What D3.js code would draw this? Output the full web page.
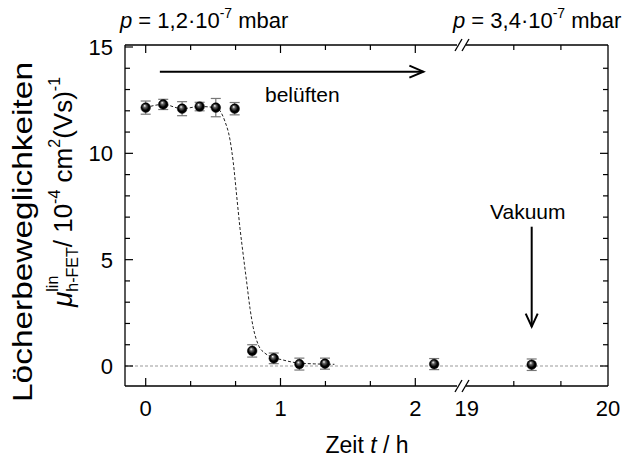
<!DOCTYPE html>
<html><head><meta charset="utf-8">
<script src="https://cdn.jsdelivr.net/npm/d3@7/dist/d3.min.js"></script>
<style>body{margin:0;background:#fff}svg text{font-family:"Liberation Sans",Arial,sans-serif;fill:#000;white-space:pre}</style>
</head><body><svg id="c" width="625" height="459"></svg>
<script>
// ---- data ----
const timeH      = [0, 0.13, 0.27, 0.40, 0.52, 0.66, 0.79, 0.95, 1.14, 1.33, 2.14, 19.46];
const mobility   = [12.15, 12.3, 12.1, 12.2, 12.15, 12.1, 0.71, 0.36, 0.09, 0.11, 0.09, 0.06];
const mobilityErr= [0.31, 0.24, 0.33, 0.2, 0.43, 0.29, 0.29, 0.25, 0.28, 0.26, 0.26, 0.27];
const fitT = [0, 0.13, 0.27, 0.40, 0.52, 0.551, 0.588, 0.625, 0.650, 0.675, 0.700, 0.724, 0.749, 0.774, 0.798, 0.835, 0.885, 0.935, 1.02, 1.12, 1.25, 1.4];
const fitV = [12.15, 12.3, 12.1, 12.2, 12.15, 12.0, 11.5, 10.65, 9.55, 8.0, 6.45, 5.2, 3.95, 2.7, 1.8, 1.0, 0.6, 0.43, 0.28, 0.15, 0.1, 0.08];
const xTicksLeft  = [0, 1, 2];
const xTicksRight = [19, 20];
const yTicks = [0, 5, 10, 15];

// ---- layout ----
const L = 125, R = 608, T = 45, B = 386, BRK = 463;
const svg = d3.select('#c');
const xl = d3.scaleLinear().domain([0, 2]).range([145.7, 415.3]);
const xr = d3.scaleLinear().domain([19, 20]).range([466.7, 608]);
const X = t => t > 10 ? xr(t) : xl(t);
const y = d3.scaleLinear().domain([0, 15]).range([366, 47]);

// zero reference line
svg.append('line').attr('x1', L).attr('x2', R).attr('y1', y(0)).attr('y2', y(0))
  .attr('stroke', '#999').attr('stroke-width', 1).attr('stroke-dasharray', '3,2');

// fit curve
const fitPts = fitT.map((t, i) => [X(t), y(fitV[i])]);
svg.append('path').attr('d', d3.line().curve(d3.curveMonotoneX)(fitPts))
  .attr('fill', 'none').attr('stroke', '#222').attr('stroke-width', 1).attr('stroke-dasharray', '3,2');

// axes frame with break
const ax = svg.append('g').attr('stroke', '#000').attr('stroke-width', 1.3).attr('fill', 'none');
ax.append('line').attr('x1', L).attr('x2', L).attr('y1', T).attr('y2', B);
ax.append('line').attr('x1', R).attr('x2', R).attr('y1', T).attr('y2', B);
[T, B].forEach(yy => {
  ax.append('line').attr('x1', L).attr('x2', BRK - 6).attr('y1', yy).attr('y2', yy);
  ax.append('line').attr('x1', BRK + 3).attr('x2', R).attr('y1', yy).attr('y2', yy);
  [-4, 3].forEach(o => ax.append('line').attr('x1', BRK + o - 4).attr('y1', yy + 6)
      .attr('x2', BRK + o + 3).attr('y2', yy - 6));
});

// ticks (inward, mirrored)
const minorL = d3.range(0, 7).map(i => i / 3);
const minorR = [19 + 1 / 3, 19 + 2 / 3];
const tickG = svg.append('g').attr('stroke', '#000').attr('stroke-width', 1.2);
const drawXT = (px, len) => {
  tickG.append('line').attr('x1', px).attr('x2', px).attr('y1', B).attr('y2', B - len);
  tickG.append('line').attr('x1', px).attr('x2', px).attr('y1', T).attr('y2', T + len);
};
minorL.forEach((v, i) => drawXT(xl(v), i % 3 === 0 ? 8 : 5));
minorR.forEach(v => drawXT(xr(v), 5));
d3.range(0, 16).forEach(v => {
  const len = v % 5 === 0 ? 8 : 5;
  tickG.append('line').attr('x1', L).attr('x2', L + len).attr('y1', y(v)).attr('y2', y(v));
  if (v < 15) tickG.append('line').attr('x1', R).attr('x2', R - len).attr('y1', y(v)).attr('y2', y(v));
});

// tick labels
const fs = 22;
yTicks.forEach(v => svg.append('text').attr('x', 113).attr('y', y(v) + 8).attr('text-anchor', 'end')
  .attr('font-size', fs).text(v));
xTicksLeft.forEach(v => svg.append('text').attr('x', xl(v)).attr('y', 416).attr('text-anchor', 'middle')
  .attr('font-size', fs).text(v));
xTicksRight.forEach(v => svg.append('text').attr('x', xr(v)).attr('y', 416).attr('text-anchor', 'middle')
  .attr('font-size', fs).text(v));

// rich text helper
function rich(parent, x0, y0, runs) {
  let x = x0, lastW = 0;
  runs.forEach(r => {
    const t = parent.append('text').attr('x', x).attr('y', y0 + (r.dy || 0))
      .attr('font-size', r.size || fs).text(r.text);
    if (r.italic) t.attr('font-style', 'italic');
    const w = t.node().getComputedTextLength();
    if (r.stack) { lastW = w; }
    else { x += Math.max(w, r.after ? lastW : 0); lastW = 0; }
  });
  return x - x0;
}

// top labels
[[120, '1,2'], [453, '3,4']].forEach(([px, v]) => {
  rich(svg, px, 28, [
    {text: 'p', italic: true}, {text: ' = ' + v + '·10'}, {text: '-7', size: 14, dy: -10}, {text: ' mbar'}
  ]);
});

// y axis label
const g1 = svg.append('g').attr('transform', 'translate(32,232) rotate(-90)');
g1.append('text').attr('text-anchor', 'middle').attr('font-size', 28)
  .attr('textLength', 340).attr('lengthAdjust', 'spacingAndGlyphs').text('Löcherbeweglichkeiten');
const g2 = svg.append('g').attr('transform', 'translate(72,192) rotate(-90)');
const tmp = g2.append('g');
const w2 = rich(tmp, 0, 0, [
  {text: 'μ', italic: true, size: 28},
  {text: 'lin', size: 16, dy: -14, stack: true},
  {text: 'h-FET', size: 16, dy: 6, after: true},
  {text: '/ 10', size: 26},
  {text: '-4', size: 16, dy: -12},
  {text: ' cm', size: 26},
  {text: '2', size: 16, dy: -12},
  {text: '(Vs)', size: 26},
  {text: '-1', size: 16, dy: -12}
]);
tmp.attr('transform', `translate(${-w2 / 2},0)`);

// x axis label
const xl2 = svg.append('g');
const wx = rich(xl2, 0, 453, [{text: 'Zeit ', size: 23}, {text: 't', italic: true, size: 23}, {text: ' / h', size: 23}]);
xl2.attr('transform', `translate(${367 - wx / 2},0)`);

// arrows
const arr = svg.append('g').attr('stroke', '#000').attr('stroke-width', 2).attr('fill', 'none');
const ay = y(13.84), ax0 = xl(0.105), ax1 = xl(2.06);
arr.append('line').attr('x1', ax0).attr('x2', ax1).attr('y1', ay).attr('y2', ay);
arr.append('path').attr('d', `M${ax1 - 14},${ay - 6}L${ax1},${ay}L${ax1 - 14},${ay + 6}`);
const vx = xr(19.46), vy0 = y(6.55), vy1 = y(1.85);
arr.append('line').attr('x1', vx).attr('x2', vx).attr('y1', vy0).attr('y2', vy1);
arr.append('path').attr('d', `M${vx - 6},${vy1 - 13}L${vx},${vy1}L${vx + 6},${vy1 - 13}`);
svg.append('text').attr('x', 265).attr('y', 102).attr('font-size', 21).text('belüften');
svg.append('text').attr('x', 490).attr('y', 219).attr('font-size', 21).text('Vakuum');

// error bars
const eg = svg.append('g').attr('stroke', '#777').attr('stroke-width', 1.2);
timeH.forEach((t, i) => {
  const px = X(t), a = y(mobility[i] + mobilityErr[i]), b = y(mobility[i] - mobilityErr[i]);
  eg.append('line').attr('x1', px).attr('x2', px).attr('y1', a).attr('y2', b);
  eg.append('line').attr('x1', px - 5).attr('x2', px + 5).attr('y1', a).attr('y2', a);
  eg.append('line').attr('x1', px - 5).attr('x2', px + 5).attr('y1', b).attr('y2', b);
});

// balls
const defs = svg.append('defs');
const rg = defs.append('radialGradient').attr('id', 'ball').attr('cx', '0.5').attr('cy', '0.5').attr('r', '0.6')
  .attr('fx', '0.38').attr('fy', '0.3');
rg.append('stop').attr('offset', '0').attr('stop-color', '#fff');
rg.append('stop').attr('offset', '0.25').attr('stop-color', '#666');
rg.append('stop').attr('offset', '0.6').attr('stop-color', '#000');
rg.append('stop').attr('offset', '1').attr('stop-color', '#000');
svg.append('g').selectAll('circle').data(timeH).join('circle')
  .attr('cx', d => X(d)).attr('cy', (d, i) => y(mobility[i])).attr('r', 4.8)
  .attr('fill', 'url(#ball)').attr('stroke', '#000').attr('stroke-width', 0.5);
</script></body></html>
